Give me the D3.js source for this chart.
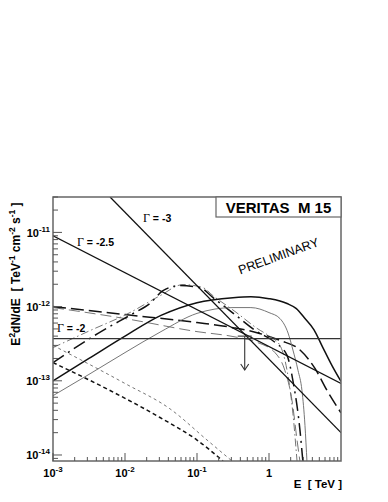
<!DOCTYPE html>
<html>
<head>
<meta charset="utf-8">
<script src="https://cdn.jsdelivr.net/npm/d3@7"></script>
<style>
  body { margin: 0; background: #fff; }
  svg text { font-family: "Liberation Sans", Arial, sans-serif; }
</style>
</head>
<body>
<svg id="chart" width="388" height="502"></svg>
<script>
// axis ranges and tick labels
const xTicks = [1e-3, 1e-2, 1e-1, 1];
const xTickLabels = [["10", "-3"], ["10", "-2"], ["10", "-1"], ["1", ""]];
const yTicks = [1e-14, 1e-13, 1e-12, 1e-11];
const yTickLabels = [["10", "-14"], ["10", "-13"], ["10", "-12"], ["10", "-11"]];

// power laws through the upper limit, endpoints
const gamma3 = [[6.2e-3, 3e-11], [10, 2.0e-14]];
const gamma25 = [[1e-3, 9.0e-12], [10, 9.2e-14]];
const gamma2 = [[1e-3, 3.7e-13], [10, 3.7e-13]];

// upper limit: energy, flux, arrow end
const ulPoint = [0.46, 4.0e-13, 1.4e-13];

// model curves [E TeV, E^2 dN/dE]
const solidThick = [[1e-3, 1.0e-13], [3.16e-3, 2.0e-13], [1e-2, 4.0e-13], [3.16e-2, 7.6e-13], [0.1, 1.13e-12],
  [0.316, 1.32e-12], [0.56, 1.36e-12], [1, 1.28e-12], [1.78, 1.10e-12], [2.4, 9.4e-13], [3.16, 6.9e-13],
  [4.2, 4.9e-13], [5.6, 2.8e-13], [7.5, 1.6e-13], [10, 9.8e-14]];
const solidThin = [[1e-3, 6.3e-14], [3.16e-3, 1.22e-13], [1e-2, 2.4e-13], [3.16e-2, 4.6e-13], [0.1, 8.1e-13],
  [0.316, 9.7e-13], [0.56, 9.7e-13], [1, 8.3e-13], [1.42, 6.9e-13], [1.84, 4.4e-13], [2.15, 2.6e-13],
  [2.53, 1.38e-13], [2.87, 7.4e-14], [3.16, 2.5e-14], [3.37, 8e-15]];
const longDashThick = [[1e-3, 1.0e-12], [1e-2, 7.8e-13], [0.1, 6.1e-13], [0.316, 5.2e-13], [0.68, 4.45e-13],
  [1.42, 3.5e-13], [2.7, 2.6e-13], [4.35, 1.47e-13], [6.4, 7.4e-14], [10, 3.7e-14]];
const longDashThin = [[1e-3, 9.7e-13], [1e-2, 6.9e-13], [0.1, 4.6e-13], [0.316, 3.95e-13], [0.68, 3.3e-13],
  [1.21, 2.4e-13], [1.66, 1.38e-13], [2.09, 5.4e-14], [2.45, 1.6e-14], [2.7, 8e-15]];
const dashDotThick = [[1e-3, 1.76e-13], [4.9e-3, 4.75e-13], [1.29e-2, 8.05e-13], [2.22e-2, 1.1e-12],
  [3.37e-2, 1.64e-12], [5.8e-2, 1.92e-12], [0.11, 1.8e-12], [0.167, 1.32e-12], [0.337, 7.8e-13],
  [0.68, 4.6e-13], [1.21, 3.3e-13], [1.78, 2.2e-13], [2.15, 1.0e-13], [2.7, 2.1e-14], [2.95, 8.3e-15]];
const dashDotThin = [[1e-3, 2.8e-13], [3.27e-3, 4.75e-13], [1.17e-2, 8.3e-13], [3.06e-2, 1.4e-12],
  [6.4e-2, 1.98e-12], [0.121, 1.8e-12], [0.167, 1.4e-12], [0.337, 8.6e-13], [0.68, 5.1e-13],
  [1.03, 3.95e-13], [1.42, 3.0e-13], [1.78, 1.38e-13], [2.15, 3.6e-14], [2.45, 8.3e-15]];
const shortDashThick = [[1e-3, 1.76e-13], [6.2e-3, 7.4e-14], [3.06e-2, 3.2e-14], [0.1, 1.59e-14], [0.23, 8.3e-15]];
const shortDashThin = [[1e-3, 3.0e-13], [1e-2, 9.2e-14], [4.2e-2, 4.2e-14], [0.138, 1.59e-14], [0.306, 8.3e-15]];

const frame = {left: 53, top: 197, right: 341, bottom: 461};
const svg = d3.select("#chart");

const x = d3.scaleLog().domain([1e-3, 10]).range([frame.left, frame.right]);
const y = d3.scaleLog().domain([8.3e-15, 3e-11]).range([frame.bottom, frame.top]);

svg.append("clipPath").attr("id", "plotclip")
  .append("rect")
  .attr("x", frame.left).attr("y", frame.top)
  .attr("width", frame.right - frame.left).attr("height", frame.bottom - frame.top);

const plot = svg.append("g").attr("clip-path", "url(#plotclip)");

const line = d3.line()
  .x(d => x(d[0]))
  .y(d => y(d[1]))
  .curve(d3.curveMonotoneX);

const straight = d3.line().x(d => x(d[0])).y(d => y(d[1]));

const curves = [
  {data: shortDashThin, w: 0.9, c: "#666", dash: "3,3"},
  {data: shortDashThick, w: 1.5, c: "#111", dash: "4,3"},
  {data: longDashThin, w: 0.9, c: "#666", dash: "11,5"},
  {data: longDashThick, w: 1.5, c: "#111", dash: "13,5"},
  {data: dashDotThin, w: 0.9, c: "#666", dash: "8,3,1.5,3"},
  {data: dashDotThick, w: 1.5, c: "#111", dash: "13,5,2,5"},
  {data: solidThin, w: 0.9, c: "#666", dash: null},
  {data: solidThick, w: 1.5, c: "#111", dash: null}
];

curves.forEach(cv => {
  plot.append("path")
    .attr("d", line(cv.data))
    .attr("fill", "none")
    .attr("stroke", cv.c)
    .attr("stroke-width", cv.w)
    .attr("stroke-dasharray", cv.dash);
});

[gamma3, gamma25].forEach(g => {
  plot.append("path")
    .attr("d", straight(g))
    .attr("fill", "none")
    .attr("stroke", "#111")
    .attr("stroke-width", 1.3);
});
plot.append("path")
  .attr("d", straight(gamma2))
  .attr("fill", "none")
  .attr("stroke", "#333")
  .attr("stroke-width", 1.3);

// upper limit with arrow
const ulx = x(ulPoint[0]);
plot.append("line")
  .attr("x1", ulx - 7).attr("x2", ulx + 7)
  .attr("y1", y(ulPoint[1])).attr("y2", y(ulPoint[1]))
  .attr("stroke", "#333").attr("stroke-width", 1.1);
plot.append("line")
  .attr("x1", ulx).attr("x2", ulx)
  .attr("y1", y(ulPoint[1])).attr("y2", y(ulPoint[2]))
  .attr("stroke", "#333").attr("stroke-width", 1.1);
plot.append("path")
  .attr("d", `M${ulx - 4},${y(ulPoint[2]) - 6} L${ulx},${y(ulPoint[2])} L${ulx + 4},${y(ulPoint[2]) - 6}`)
  .attr("fill", "none").attr("stroke", "#333").attr("stroke-width", 1.1);

// frame
svg.append("rect")
  .attr("x", frame.left).attr("y", frame.top)
  .attr("width", frame.right - frame.left).attr("height", frame.bottom - frame.top)
  .attr("fill", "none").attr("stroke", "#666").attr("stroke-width", 1.5);

// ticks drawn inward, like ROOT
const xMinor = [];
const yMinor = [];
for (let p = -3; p < 1; p++) for (let k = 2; k <= 9; k++) xMinor.push(k * Math.pow(10, p));
for (let p = -15; p < -10; p++) for (let k = 2; k <= 9; k++) yMinor.push(k * Math.pow(10, p));

const ticks = svg.append("g").attr("stroke", "#555").attr("stroke-width", 1);
xMinor.filter(v => v >= 1e-3 && v <= 10).forEach(v => {
  ticks.append("line").attr("x1", x(v)).attr("x2", x(v))
    .attr("y1", frame.bottom).attr("y2", frame.bottom - 4);
});
xTicks.forEach(v => {
  ticks.append("line").attr("x1", x(v)).attr("x2", x(v))
    .attr("y1", frame.bottom).attr("y2", frame.bottom - 8);
});
yMinor.filter(v => v >= 8.3e-15 && v <= 3e-11).forEach(v => {
  ticks.append("line").attr("x1", frame.left).attr("x2", frame.left + 5)
    .attr("y1", y(v)).attr("y2", y(v));
});
yTicks.forEach(v => {
  ticks.append("line").attr("x1", frame.left).attr("x2", frame.left + 9)
    .attr("y1", y(v)).attr("y2", y(v));
});

// tick labels
xTicks.forEach((v, i) => {
  const t = svg.append("text")
    .attr("x", x(v)).attr("y", 477)
    .attr("text-anchor", "middle")
    .attr("font-size", 11).attr("font-weight", "bold");
  t.append("tspan").text(xTickLabels[i][0]);
  if (xTickLabels[i][1]) t.append("tspan").attr("dy", -5).attr("font-size", 8).text(xTickLabels[i][1]);
});
yTicks.forEach((v, i) => {
  const t = svg.append("text")
    .attr("x", 50).attr("y", y(v) + 4.5)
    .attr("text-anchor", "end")
    .attr("font-size", 11).attr("font-weight", "bold");
  t.append("tspan").text(yTickLabels[i][0]);
  t.append("tspan").attr("dy", -5).attr("font-size", 8).text(yTickLabels[i][1]);
});

// axis titles
svg.append("text")
  .attr("x", 342).attr("y", 488)
  .attr("text-anchor", "end")
  .attr("font-size", 11.5).attr("font-weight", "bold")
  .attr("xml:space", "preserve")
  .text("E  [ TeV ]");

const ytitle = svg.append("text")
  .attr("transform", "translate(20,274) rotate(-90)")
  .attr("text-anchor", "middle")
  .attr("font-size", 12).attr("font-weight", "bold")
  .attr("xml:space", "preserve");
ytitle.append("tspan").text("E");
ytitle.append("tspan").attr("dy", -5).attr("font-size", 8.5).text("2");
ytitle.append("tspan").attr("dy", 5).text("dN/dE  [ TeV");
ytitle.append("tspan").attr("dy", -5).attr("font-size", 8.5).text("-1");
ytitle.append("tspan").attr("dy", 5).text(" cm");
ytitle.append("tspan").attr("dy", -5).attr("font-size", 8.5).text("-2");
ytitle.append("tspan").attr("dy", 5).text(" s");
ytitle.append("tspan").attr("dy", -5).attr("font-size", 8.5).text("-1");
ytitle.append("tspan").attr("dy", 5).text(" ]");

// title box
svg.append("rect")
  .attr("x", 216).attr("y", frame.top)
  .attr("width", frame.right - 216).attr("height", 20)
  .attr("fill", "#fff").attr("stroke", "#666").attr("stroke-width", 1.2);
svg.append("text")
  .attr("x", 278.5).attr("y", 213)
  .attr("text-anchor", "middle")
  .attr("font-size", 15).attr("font-weight", "bold")
  .attr("xml:space", "preserve")
  .text("VERITAS  M 15");

svg.append("text")
  .attr("transform", "translate(280,260) rotate(-20)")
  .attr("text-anchor", "middle")
  .attr("font-size", 12.5)
  .text("PRELIMINARY");

// index labels
const gammaLabels = [
  {t: "-3", px: 143, py: 222},
  {t: "-2.5", px: 77, py: 246},
  {t: "-2", px: 57, py: 332}
];
gammaLabels.forEach(g => {
  const t = svg.append("text")
    .attr("x", g.px).attr("y", g.py)
    .attr("font-size", 10.5).attr("font-weight", "bold")
    .attr("xml:space", "preserve");
  t.append("tspan").attr("font-family", "Liberation Serif, serif").attr("font-weight", "normal")
    .attr("font-size", 12).text("Γ");
  t.append("tspan").text(" = " + g.t);
});
</script>
</body>
</html>
